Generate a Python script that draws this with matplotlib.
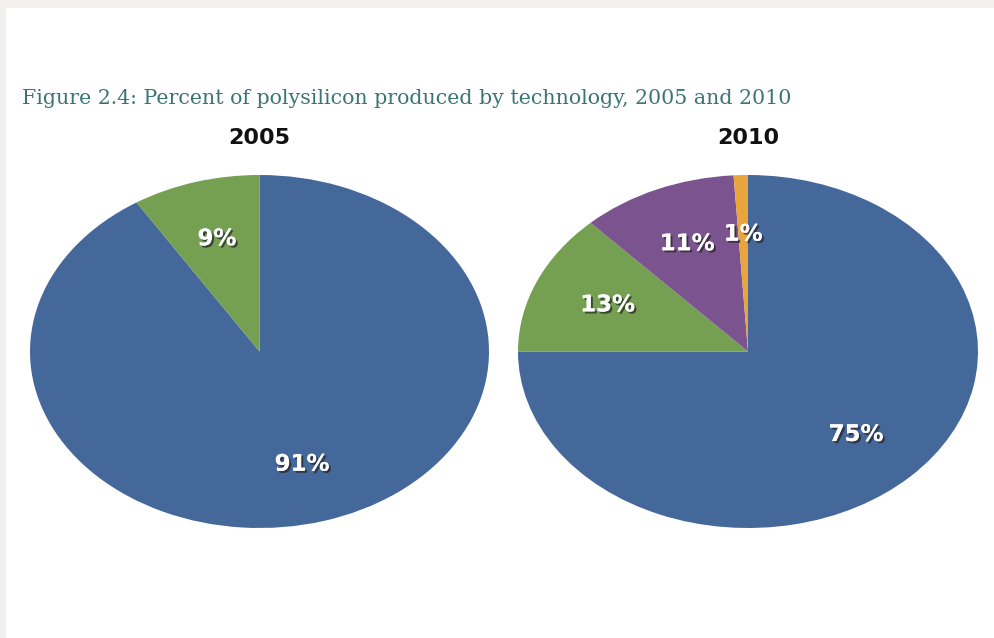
import matplotlib
matplotlib.use('Agg')
import matplotlib.pyplot as plt
import matplotlib.patheffects as pe
from matplotlib.patches import Rectangle

# data (clockwise from 12 o'clock)
years = ['2005', '2010']
shares_2005 = [91, 9]
shares_2010 = [75, 13, 11, 1]
colors_2005 = ['#45689b', '#75a052']
colors_2010 = ['#45689b', '#75a052', '#7b538f', '#e9a53b']

title = 'Figure 2.4: Percent of polysilicon produced by technology, 2005 and 2010'

W, H = 994, 638
fig = plt.figure(figsize=(W / 100, H / 100), dpi=100)
fig.patch.set_facecolor('#f2f1ef')
fig.add_artist(Rectangle((6 / W, 0), 1, (H - 8) / H, transform=fig.transFigure,
                         facecolor='white', edgecolor='none', zorder=-1))

fig.text(22 / W, 1 - 104 / H, title, family='DejaVu Serif', fontsize=14.8,
         color='#3b7474', va='baseline', ha='left')

shadow = [pe.withSimplePatchShadow(offset=(1.5, -1.5), shadow_rgbFace='#222222', alpha=0.7),
          pe.Normal()]

# pie bounding boxes in pixels (left, right) ; top/bottom shared
boxes = [(30, 489), (518, 978)]
top, bottom = 175, 528

for (x0, x1), year, vals, cols in zip(boxes, years,
                                       [shares_2005, shares_2010],
                                       [colors_2005, colors_2010]):
    ax = fig.add_axes([x0 / W, 1 - bottom / H, (x1 - x0) / W, (bottom - top) / H])
    wedges, texts, autotexts = ax.pie(vals, colors=cols, startangle=90, counterclock=False,
                                      autopct='%1.0f%%', pctdistance=0.665,
                                      wedgeprops=dict(linewidth=0))
    for w in wedges:
        w.set_clip_on(False)
    for t in autotexts:
        t.set_color('white')
        t.set_fontsize(16.5)
        t.set_fontweight('bold')
        t.set_family('DejaVu Sans')
        t.set_path_effects(shadow)
    ax.set_xlim(-1, 1)
    ax.set_ylim(-1, 1)
    ax.set_aspect('auto')
    ax.set_title(year, fontsize=16, fontweight='bold', family='DejaVu Sans',
                 color='#111111', pad=22)

fig.savefig('out.png', dpi=100, facecolor=fig.get_facecolor())
